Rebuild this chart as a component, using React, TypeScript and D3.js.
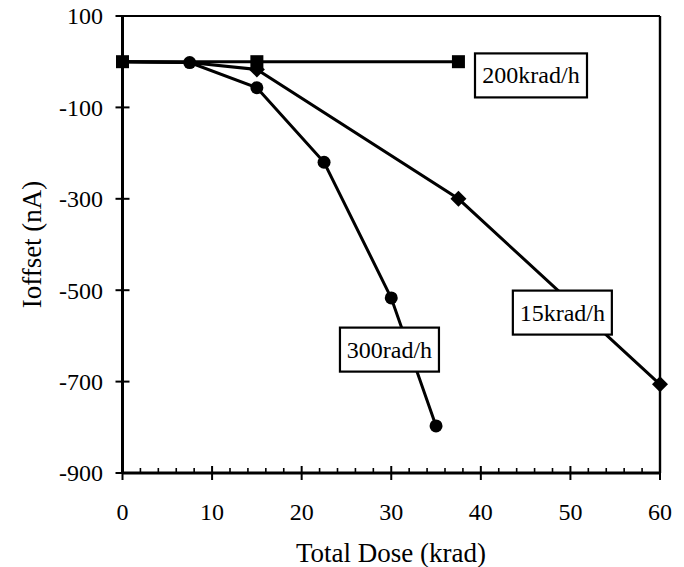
import React from "react";
import * as d3 from "d3";

const W = 684;
const H = 567;

// Series data (Total Dose in krad, Ioffset in nA)
const dose200 = [0, 15, 37.5];
const ioff200 = [0, 0, 0];

const dose15 = [0, 7.5, 15, 37.5, 60];
const ioff15 = [0, -2, -17, -300, -706];

const dose300 = [0, 7.5, 15, 22.5, 30, 35];
const ioff300 = [0, -2, -57, -220, -517, -797];

const xTicks = [0, 10, 20, 30, 40, 50, 60];
const xMinorTicks = d3.range(0, 61, 2);
const yTicks = [100, -100, -300, -500, -700, -900];

const seriesLabels = ["200krad/h", "15krad/h", "300rad/h"];

const FONT = "'Liberation Serif', 'Times New Roman', 'DejaVu Serif', serif";

export default function App() {
  const left = 122.5, right = 660, top = 16, bottom = 473;
  const x = d3.scaleLinear().domain([0, 60]).range([left, right]);
  const y = d3.scaleLinear().domain([100, -900]).range([top, bottom]);

  const line = d3
    .line<[number, number]>()
    .x((d) => x(d[0]))
    .y((d) => y(d[1]));

  const zip = (a: number[], b: number[]) => a.map((v, i) => [v, b[i]] as [number, number]);
  const s200 = zip(dose200, ioff200);
  const s15 = zip(dose15, ioff15);
  const s300 = zip(dose300, ioff300);

  // label boxes: centre in data coords
  const labelAnchors: [number, number][] = [
    [45.6, -30],
    [49.1, -549],
    [29.8, -630],
  ];
  const labelW = [112, 99, 99];
  const boxH = 44;

  return (
    <svg
      width={W}
      height={H}
      style={{ position: "absolute", left: 0, top: 0, background: "#fff" }}
      fontFamily={FONT}
    >
      <rect x={0} y={0} width={W} height={H} fill="#fff" />
      {/* frame */}
      <line x1={left} x2={right} y1={top} y2={top} stroke="#000" strokeWidth={2.2} />
      <line x1={right} x2={right} y1={top} y2={bottom} stroke="#000" strokeWidth={2.4} />
      <line x1={left} x2={left} y1={top - 1} y2={bottom + 1} stroke="#000" strokeWidth={3} />
      <line x1={left} x2={right} y1={bottom} y2={bottom} stroke="#000" strokeWidth={2.8} />

      {/* y ticks */}
      {yTicks.map((t) => (
        <g key={"y" + t}>
          <line x1={left - 7} x2={left + 7} y1={y(t)} y2={y(t)} stroke="#000" strokeWidth={2} />
          <text
            x={103}
            y={y(t)}
            dy="0.35em"
            textAnchor="end"
            fontSize={24}
            fill="#000"
          >
            {t}
          </text>
        </g>
      ))}

      {/* x minor ticks */}
      {xMinorTicks
        .filter((t) => t % 10 !== 0)
        .map((t) => (
          <line key={"xm" + t} x1={x(t)} x2={x(t)} y1={bottom - 5} y2={bottom} stroke="#000" strokeWidth={1.6} />
        ))}
      {/* x major ticks */}
      {xTicks.map((t) => (
        <g key={"x" + t}>
          <line x1={x(t)} x2={x(t)} y1={bottom - 7} y2={bottom + 7} stroke="#000" strokeWidth={2} />
          <text x={x(t)} y={520} textAnchor="middle" fontSize={24} fill="#000">
            {t}
          </text>
        </g>
      ))}

      {/* axis titles */}
      <text x={391} y={562} textAnchor="middle" fontSize={27} fill="#000">
        Total Dose (krad)
      </text>
      <text
        transform={`translate(41, ${(top + bottom) / 2}) rotate(-90)`}
        textAnchor="middle"
        fontSize={27}
        fill="#000"
      >
        Ioffset (nA)
      </text>

      {/* lines */}
      <path d={line(s300) || ""} fill="none" stroke="#000" strokeWidth={3} />
      <path d={line(s15) || ""} fill="none" stroke="#000" strokeWidth={3} />
      <path d={line(s200) || ""} fill="none" stroke="#000" strokeWidth={3} />

      {/* markers */}
      {s300.slice(1).map((d, i) => (
        <circle key={"c" + i} cx={x(d[0])} cy={y(d[1])} r={6.5} fill="#000" />
      ))}
      {s15.slice(2).map((d, i) => (
        <path
          key={"d" + i}
          d={`M${x(d[0])},${y(d[1]) - 8} L${x(d[0]) + 8},${y(d[1])} L${x(d[0])},${y(d[1]) + 8} L${x(d[0]) - 8},${y(d[1])} Z`}
          fill="#000"
        />
      ))}
      {s200.map((d, i) => (
        <rect key={"s" + i} x={x(d[0]) - 6.5} y={y(d[1]) - 6.5} width={13} height={13} fill="#000" />
      ))}

      {/* labels */}
      {seriesLabels.map((lab, i) => {
        const cx = x(labelAnchors[i][0]);
        const cy = y(labelAnchors[i][1]);
        return (
          <g key={lab}>
            <rect
              x={cx - labelW[i] / 2}
              y={cy - boxH / 2}
              width={labelW[i]}
              height={boxH}
              fill="#fff"
              stroke="#000"
              strokeWidth={2.2}
            />
            <text x={cx} y={cy} dy="0.33em" textAnchor="middle" fontSize={24} fill="#000">
              {lab}
            </text>
          </g>
        );
      })}
    </svg>
  );
}
